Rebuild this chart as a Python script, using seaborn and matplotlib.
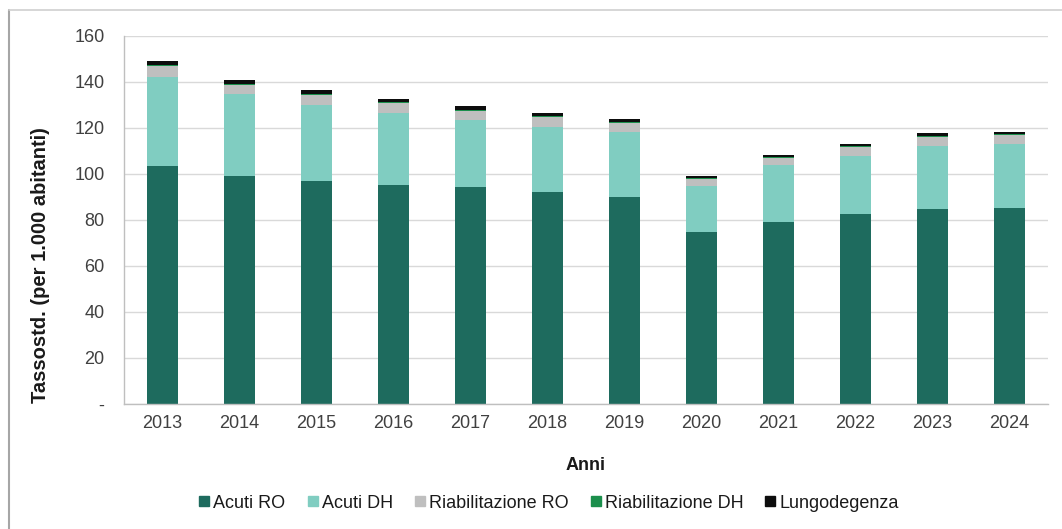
import numpy as np
import pandas as pd
import seaborn as sns
import matplotlib.pyplot as plt
from matplotlib.lines import Line2D

sns.set_theme(style='white')
plt.rcParams['font.family'] = ['Liberation Sans', 'DejaVu Sans']

YEARS = ['2013', '2014', '2015', '2016', '2017', '2018',
         '2019', '2020', '2021', '2022', '2023', '2024']
ACUTI_RO = [103.6, 99.3, 97.1, 95.2, 94.2, 92.3, 90.1, 74.6, 79.3, 82.5, 84.8, 85.4]
ACUTI_DH = [38.5, 35.3, 32.9, 31.2, 29.3, 28.3, 28.2, 20.3, 24.5, 25.3, 27.2, 27.5]
RIAB_RO = [4.8, 4.2, 4.5, 4.3, 4.0, 4.0, 4.0, 2.9, 3.3, 3.9, 4.2, 3.9]
RIAB_DH = [0.4, 0.4, 0.4, 0.4, 0.4, 0.4, 0.4, 0.3, 0.3, 0.4, 0.4, 0.4]
LUNGO = [1.8, 1.6, 1.6, 1.6, 1.7, 1.7, 1.2, 0.9, 1.0, 1.1, 1.4, 1.2]

SERIES = ['Acuti RO', 'Acuti DH', 'Riabilitazione RO', 'Riabilitazione DH', 'Lungodegenza']
COLORS = ['#1e6b5e', '#80cdc1', '#bfbfbf', '#1b8f4c', '#0d0d0d']

df = pd.DataFrame({'anno': YEARS,
                   'Acuti RO': ACUTI_RO,
                   'Acuti DH': ACUTI_DH,
                   'Riabilitazione RO': RIAB_RO,
                   'Riabilitazione DH': RIAB_DH,
                   'Lungodegenza': LUNGO})

# cumulative tops, drawn from the tallest down so every layer shows
cum = df[SERIES].cumsum(axis=1)

fig = plt.figure(figsize=(10.62, 5.29), dpi=100)
ax = fig.add_axes([124 / 1062, 1 - 404 / 529, (1048 - 124) / 1062, (404 - 36) / 529])

for name, color in reversed(list(zip(SERIES, COLORS))):
    sns.barplot(x=df['anno'], y=cum[name], color=color, width=0.39,
                saturation=1, ax=ax, linewidth=0)

ax.set_xlim(-0.5, 11.5)
ax.set_ylim(0, 160)
ax.set_yticks(range(0, 161, 20))
ax.set_yticklabels(['-'] + [str(v) for v in range(20, 161, 20)])
ax.yaxis.grid(True, color='#d9d9d9', linewidth=1)
ax.set_axisbelow(True)
for s in ['top', 'right']:
    ax.spines[s].set_visible(False)
for s in ['left', 'bottom']:
    ax.spines[s].set_color('#bfbfbf')
    ax.spines[s].set_linewidth(1)
ax.tick_params(axis='both', length=0, labelsize=13, labelcolor='#404040')
ax.tick_params(axis='y', pad=14)
ax.tick_params(axis='x', pad=8)

ax.set_xlabel('Anni', fontsize=13, fontweight='bold', color='#1a1a1a', labelpad=18)
ax.set_ylabel('Tassostd. (per 1.000 abitanti)', fontsize=14.5, fontweight='bold',
              color='#1a1a1a')
ax.yaxis.set_label_coords((50 - 124) / 924, (404 - 265) / 368)

handles = [Line2D([0], [0], marker='s', linestyle='', markersize=7,
                  markerfacecolor=c, markeredgecolor=c) for c in COLORS]
fig.legend(handles, SERIES, loc='center', bbox_to_anchor=(547 / 1062, 1 - 503 / 529),
           ncol=5, frameon=False, fontsize=13, handletextpad=0.0, handlelength=1.0,
           columnspacing=1.0, labelcolor='#1a1a1a')

# outer chart frame (left and top edges visible in the reference)
fig.add_artist(Line2D([9 / 1062, 9 / 1062], [0, 1 - 10 / 529], color='#a6a6a6',
                      linewidth=1.5, transform=fig.transFigure))
fig.add_artist(Line2D([9 / 1062, 1], [1 - 10 / 529, 1 - 10 / 529], color='#d0d0d0',
                      linewidth=1.2, transform=fig.transFigure))

fig.savefig('out.png', dpi=100)
